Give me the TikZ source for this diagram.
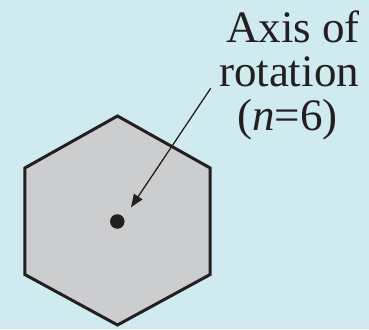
\documentclass[tikz,border=0pt]{standalone}
\usepackage{fontspec}
\setmainfont{Liberation Serif}
\usetikzlibrary{arrows.meta}
\definecolor{bgblue}{HTML}{CFEBEF}
\definecolor{hexgrey}{HTML}{CCCDCF}
\definecolor{ink}{HTML}{231F20}
\tikzset{
  lbl/.style={anchor=base, inner sep=0pt, font=\fontsize{45}{50}\selectfont, text=ink},
  hexline/.style={draw=ink, line width=3pt, fill=hexgrey, line join=miter},
  pointer/.style={draw=ink, line width=1.3pt, -{Triangle[length=13pt,width=10pt]}},
  dotmark/.style={circle, fill=ink, inner sep=0pt, minimum size=14.5pt}
}
\begin{document}
\begin{tikzpicture}[x=1pt,y=-1pt]
\fill[bgblue] (0,0) rectangle (369,329);
\useasboundingbox (0,0) rectangle (369,329);
\draw[hexline] (117.5,116) -- (210.2,168) -- (210.2,274.5) -- (117.5,325) -- (24.8,274.5) -- (24.8,168) -- cycle;
\node[dotmark] (dot) at (117.3,221.5) {};
\node[lbl] (l1) at (293,42.7) {Axis of};
\node[lbl] (l2) at (289,86.7) {rotation};
\node[lbl] (l3) at (287.5,130) {(\textit{n}=6)};
\coordinate (tail) at (210.7,88.3);
\coordinate (tip) at (131,207.3);
\draw[pointer] (tail) -- (tip);
\end{tikzpicture}
\end{document}
